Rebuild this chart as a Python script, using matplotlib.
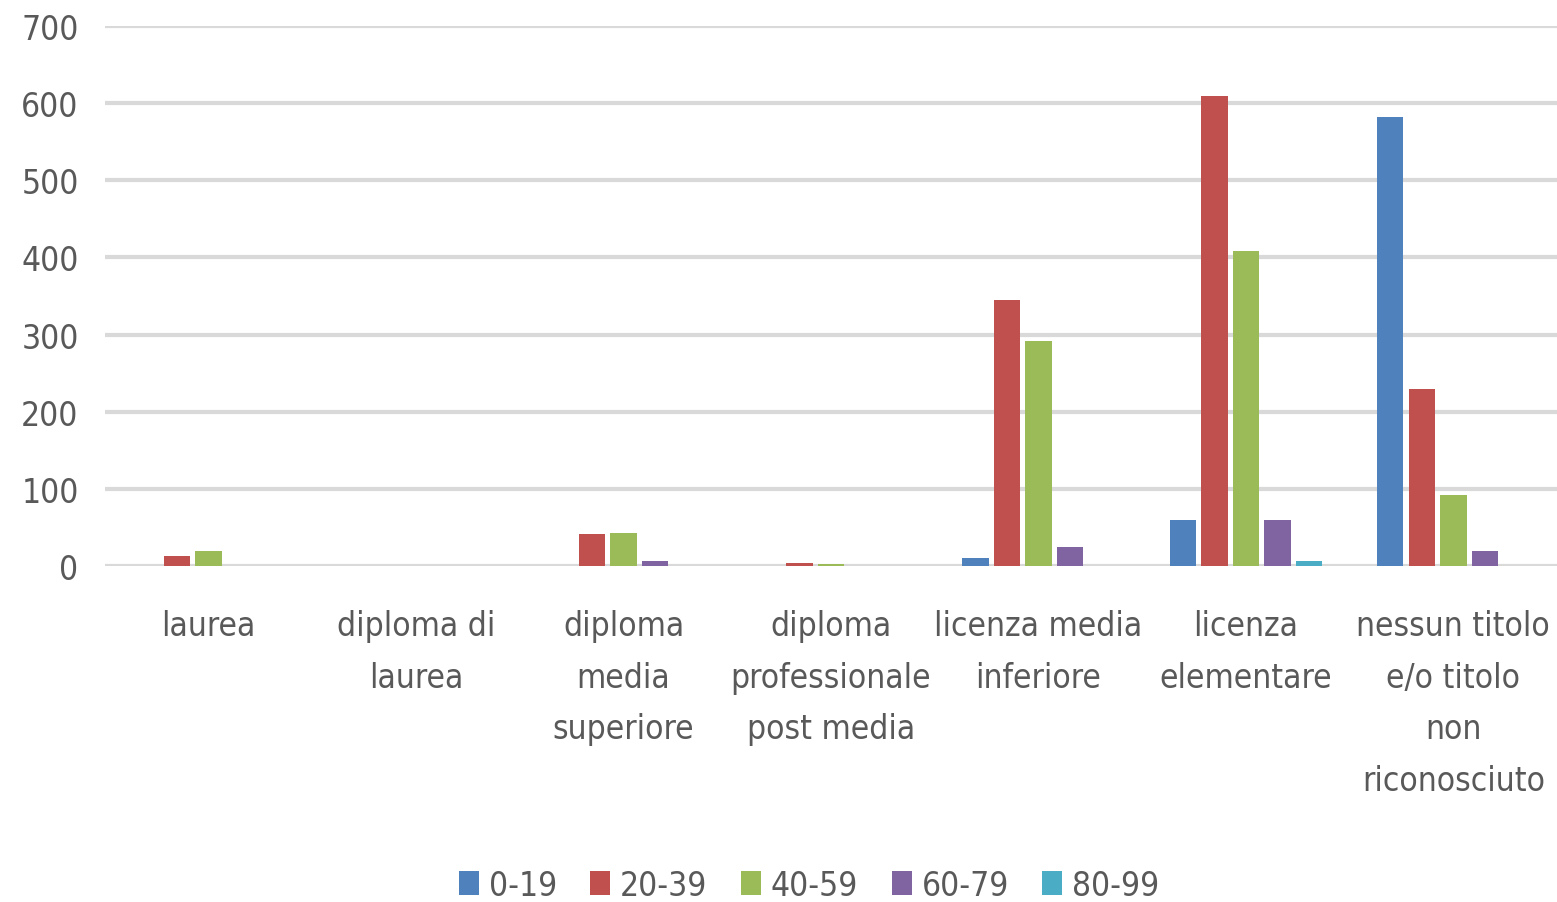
import numpy as np
import matplotlib
matplotlib.use("Agg")
import matplotlib.pyplot as plt

plt.rcParams['font.family'] = ['DejaVu Sans']
plt.rcParams['font.stretch'] = 'condensed'

# categories and series
categories = ["laurea", "diploma di\nlaurea", "diploma\nmedia\nsuperiore",
              "diploma\nprofessionale\npost media", "licenza media\ninferiore",
              "licenza\nelementare", "nessun titolo\ne/o titolo\nnon\nriconosciuto"]
series_names = ["0-19", "20-39", "40-59", "60-79", "80-99"]
v_0_19 = [0, 0, 0, 0, 10, 59, 582]
v_20_39 = [13, 0, 41, 4, 345, 609, 230]
v_40_59 = [19, 0, 43, 3, 292, 408, 92]
v_60_79 = [0, 0, 7, 0, 25, 59, 19]
v_80_99 = [0, 0, 0, 0, 0, 6, 0]
colors = ["#4f81bd", "#c0504d", "#9bbb59", "#8064a2", "#4bacc6"]

values = [v_0_19, v_20_39, v_40_59, v_60_79, v_80_99]

fig = plt.figure(figsize=(15.57, 9.03), dpi=100)
ax = fig.add_axes([105/1557, 1-567/903, 1-105/1557, (567-27)/903])

x = np.arange(len(categories))
w = 0.152
for i, (name, vals) in enumerate(zip(series_names, values)):
    ax.bar(x + (i - 2) * w, vals, width=w * 0.84, color=colors[i],
           linewidth=0, label=name, zorder=3)

ax.set_ylim(0, 700)
ax.set_xlim(-0.5, len(categories) - 0.5)
ax.set_yticks(range(0, 701, 100))
ax.yaxis.grid(True, color="#d9d9d9", linewidth=3, zorder=0)
ax.set_axisbelow(True)
for s in ax.spines.values():
    s.set_visible(False)
ax.tick_params(axis="both", length=0, labelsize=24, colors="#595959")
ax.tick_params(axis="y", pad=19)
ax.tick_params(axis="x", pad=31)
ax.set_xticks(x)
ax.set_xticklabels(categories, linespacing=1.72)

ax.legend(loc="upper center", bbox_to_anchor=(0.5 - 22/1452, -0.505), ncol=5,
          frameon=False, fontsize=24, handlelength=0.6, handleheight=0.7,
          handletextpad=0.3, columnspacing=1.0, labelcolor="#595959")

fig.savefig("out.png", dpi=100)
